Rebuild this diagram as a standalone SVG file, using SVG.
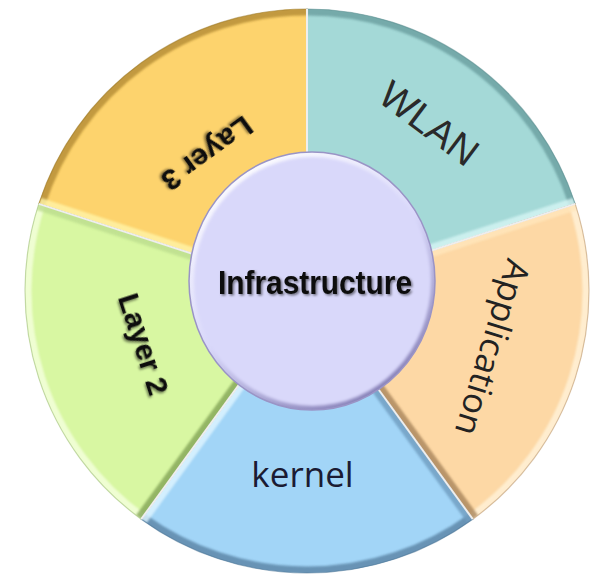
<svg xmlns="http://www.w3.org/2000/svg" width="605" height="580" viewBox="0 0 605 580">
<defs>
<style>
.band{fill:none;stroke-width:13;stroke-linecap:butt;opacity:0.8;filter:url(#soft)}
.rim{fill:none;stroke-width:1.2;opacity:0.55}
.bold{font-family:"Liberation Sans",Arial,sans-serif;font-weight:bold;fill:#111;filter:url(#tshadow)}
.reg{font-family:"Open Sans","Liberation Sans",sans-serif;font-weight:normal}
.gap{stroke:#EEEEEE;stroke-width:2;fill:none}
</style>
<filter id="soft" x="-10%" y="-10%" width="120%" height="120%"><feGaussianBlur stdDeviation="1.3"/></filter>
<filter id="soft2" x="-10%" y="-10%" width="120%" height="120%"><feGaussianBlur stdDeviation="1.6"/></filter>
<filter id="tshadow" x="-20%" y="-40%" width="140%" height="180%"><feDropShadow dx="1.5" dy="1.5" stdDeviation="1.3" flood-color="#000" flood-opacity="0.5"/></filter>
<linearGradient id="innerGrad" x1="0.2" y1="0" x2="0.8" y2="1">
<stop offset="0" stop-color="#FFFFFF"/>
<stop offset="0.5" stop-color="#D9D8FA"/>
<stop offset="1" stop-color="#7C75AE"/>
</linearGradient>
<clipPath id="cp-l3"><path d="M307,291 L38.80,203.86 A282,282 0 0 1 307,9 Z"/></clipPath>
<clipPath id="cp-wlan"><path d="M307,291 L307,9 A282,282 0 0 1 575.20,203.86 Z"/></clipPath>
<clipPath id="cp-app"><path d="M307,291 L575.20,203.86 A282,282 0 0 1 472.76,519.14 Z"/></clipPath>
<clipPath id="cp-kernel"><path d="M307,291 L472.76,519.14 A282,282 0 0 1 141.24,519.14 Z"/></clipPath>
<clipPath id="cp-l2"><path d="M307,291 L141.24,519.14 A282,282 0 0 1 38.80,203.86 Z"/></clipPath>
</defs>
<rect x="0" y="0" width="605" height="580" fill="#FFFFFF"/>

<g id="layer3">
<path d="M307,291 L38.80,203.86 A282,282 0 0 1 307,9 Z" fill="#FDD36D"/>
<g clip-path="url(#cp-l3)">
<path class="band" d="M38.80,203.86 A282,282 0 0 1 307,9" stroke="#B38B34"/>
<path class="band" d="M307,291 L38.80,203.86" stroke="#FFF4A8"/>
<path class="band" d="M307,291 L307,9" stroke="#95722A"/>
</g>
<path class="rim" d="M307,291 L38.80,203.86 A282,282 0 0 1 307,9 Z" stroke="#9A7A30"/>
<text class="bold" font-size="30" text-anchor="middle" transform="translate(307,291) rotate(234) translate(180,0) rotate(-90)">Layer 3</text>
</g>

<g id="wlan">
<path d="M307,291 L307,9 A282,282 0 0 1 575.20,203.86 Z" fill="#A4D9D7"/>
<g clip-path="url(#cp-wlan)">
<path class="band" d="M307,9 A282,282 0 0 1 575.20,203.86" stroke="#6A9E9F"/>
<path class="band" d="M307,291 L307,9" stroke="#3E6C6E"/>
<path class="band" d="M307,291 L575.20,203.86" stroke="#D6F5F4"/>
</g>
<path class="rim" d="M307,291 L307,9 A282,282 0 0 1 575.20,203.86 Z" stroke="#5E8E8F"/>
<text font-family="'Liberation Sans',Arial,sans-serif" font-size="39" fill="#2A2A2A" text-anchor="middle" transform="translate(307,291) rotate(-54) translate(194,0) rotate(91)">WLAN</text>
</g>

<g id="application">
<path d="M307,291 L575.20,203.86 A282,282 0 0 1 472.76,519.14 Z" fill="#FDD8A5"/>
<g clip-path="url(#cp-app)">
<path class="band" d="M575.20,203.86 A282,282 0 0 1 472.76,519.14" stroke="#FFF3DA"/>
<path class="band" d="M307,291 L575.20,203.86" stroke="#FFE6BC"/>
<path class="band" d="M307,291 L472.76,519.14" stroke="#A8855C"/>
</g>
<path class="rim" d="M307,291 L575.20,203.86 A282,282 0 0 1 472.76,519.14 Z" stroke="#B89570"/>
<text class="reg" font-size="34" fill="#222" text-anchor="middle" textLength="182" lengthAdjust="spacingAndGlyphs" transform="translate(307,291) rotate(17) translate(182,0) rotate(90)">Application</text>
</g>

<g id="kernel">
<path d="M307,291 L472.76,519.14 A282,282 0 0 1 141.24,519.14 Z" fill="#A2D5F7"/>
<g clip-path="url(#cp-kernel)">
<path class="band" d="M472.76,519.14 A282,282 0 0 1 141.24,519.14" stroke="#5A83A4"/>
<path class="band" d="M307,291 L472.76,519.14" stroke="#6F9CBF"/>
<path class="band" d="M307,291 L141.24,519.14" stroke="#E0F5FF"/>
</g>
<path class="rim" d="M307,291 L472.76,519.14 A282,282 0 0 1 141.24,519.14 Z" stroke="#4E7494"/>
<text class="reg" font-size="35" fill="#1B1B33" text-anchor="middle" x="302.5" y="487">kernel</text>
</g>

<g id="layer2">
<path d="M307,291 L141.24,519.14 A282,282 0 0 1 38.80,203.86 Z" fill="#D8F7A2"/>
<g clip-path="url(#cp-l2)">
<path class="band" d="M141.24,519.14 A282,282 0 0 1 38.80,203.86" stroke="#F5FFDF"/>
<path class="band" d="M307,291 L141.24,519.14" stroke="#83A457"/>
<path class="band" d="M307,291 L38.80,203.86" stroke="#BCDD8E"/>
</g>
<path class="rim" d="M307,291 L141.24,519.14 A282,282 0 0 1 38.80,203.86 Z" stroke="#9DBC78"/>
<text class="bold" font-size="30" text-anchor="middle" transform="translate(307,291) rotate(162) translate(182,0) rotate(-90)">Layer 2</text>
</g>

<g id="dividers">
<path class="gap" d="M307,291 L307,9"/>
<path class="gap" d="M307,291 L575.20,203.86" stroke-width="1.5"/>
<path class="gap" d="M307,291 L472.76,519.14" stroke-width="1.5"/>
<path class="gap" d="M307,291 L141.24,519.14" stroke-width="1.5"/>
<path class="gap" d="M307,291 L38.80,203.86" stroke-width="1.5"/>
</g>

<g id="infrastructure">
<ellipse cx="312" cy="281" rx="123" ry="129" fill="url(#innerGrad)"/>
<ellipse cx="312.5" cy="281.5" rx="118.5" ry="124.5" fill="#D9D8FA" filter="url(#soft2)"/>
<ellipse cx="312" cy="281" rx="123" ry="129" fill="none" stroke="#9A94C6" stroke-width="1.5"/>
<text class="bold" font-size="33" text-anchor="middle" x="315" y="294" textLength="194" lengthAdjust="spacingAndGlyphs">Infrastructure</text>
</g>
</svg>
